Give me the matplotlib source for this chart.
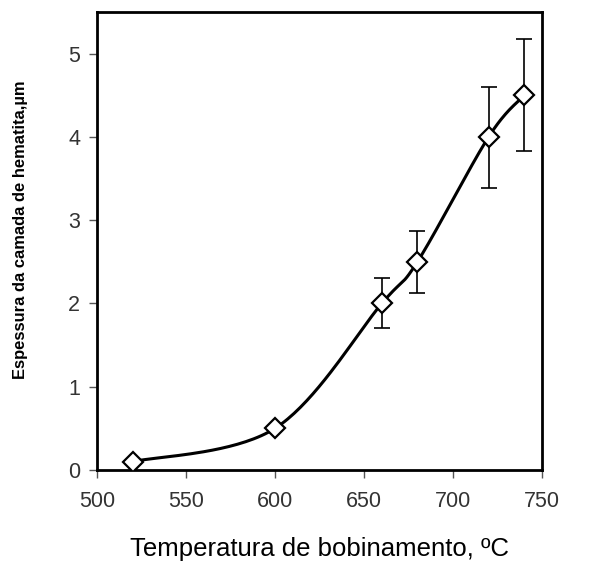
import numpy as np
import matplotlib
matplotlib.use("Agg")
import matplotlib.pyplot as plt

plt.rcParams['font.family'] = ['Liberation Sans', 'DejaVu Sans']

# data
temp = [520, 600, 660, 680, 720, 740]
thick = [0.1, 0.5, 2.0, 2.5, 4.0, 4.5]
err_low = [0.0, 0.0, 0.29, 0.37, 0.61, 0.67]
err_high = [0.0, 0.0, 0.30, 0.37, 0.60, 0.67]

xlim = (500, 750)
ylim = (0, 5.5)


def smooth_line(x, y, xr, yr, n=40):
    # Excel-like smoothing: bezier with 1/6 tangents, in normalised units
    px = (np.array(x, float) - xr[0]) / (xr[1] - xr[0])
    py = (np.array(y, float) - yr[0]) / (yr[1] - yr[0])
    P = np.column_stack([px, py])
    P = np.vstack([P[0], P, P[-1]])
    out = []
    t = np.linspace(0, 1, n)[:, None]
    for i in range(1, len(P) - 2):
        p0, p1, p2, p3 = P[i - 1], P[i], P[i + 1], P[i + 2]
        c1 = p1 + (p2 - p0) / 6
        c2 = p2 - (p3 - p1) / 6
        seg = ((1 - t) ** 3 * p1 + 3 * (1 - t) ** 2 * t * c1
               + 3 * (1 - t) * t ** 2 * c2 + t ** 3 * p2)
        out.append(seg)
    out = np.vstack(out)
    return (out[:, 0] * (xr[1] - xr[0]) + xr[0],
            out[:, 1] * (yr[1] - yr[0]) + yr[0])


fig = plt.figure(figsize=(5.91, 5.71), dpi=100)
ax = fig.add_axes([97 / 591, 1 - 470 / 571, 445 / 591, 458 / 571])

sx, sy = smooth_line(temp, thick, xlim, ylim)
ax.plot(sx, sy, color='black', lw=2.2, zorder=2)

# error bars only where they are visible
idx = [i for i in range(len(temp)) if err_low[i] > 0]
ax.errorbar([temp[i] for i in idx], [thick[i] for i in idx],
            yerr=[[err_low[i] for i in idx], [err_high[i] for i in idx]],
            fmt='none', ecolor='black', elinewidth=1.2, capsize=6, capthick=1.2,
            zorder=3)

ax.plot(temp, thick, linestyle='none', marker='D', markersize=10.5,
        markerfacecolor='white', markeredgecolor='black', markeredgewidth=1.6,
        zorder=4)

ax.set_xlim(*xlim)
ax.set_ylim(*ylim)
ax.set_xticks([500, 550, 600, 650, 700, 750])
ax.set_yticks([0, 1, 2, 3, 4, 5])

for s in ax.spines.values():
    s.set_linewidth(2)
    s.set_color('black')

ax.tick_params(axis='both', direction='out', length=6, width=1, color='#555555',
               labelsize=15.5, labelcolor='#333333')
ax.tick_params(axis='x', pad=9)
ax.tick_params(axis='y', pad=6)

ax.set_xlabel('Temperatura de bobinamento, ºC', fontsize=18.5, labelpad=18)
ax.set_ylabel('Espessura da camada de hematita,µm', fontsize=11.9,
              fontweight='bold')
ax.yaxis.set_label_coords(-0.155, 0.524)

fig.savefig('out.png', dpi=100)
